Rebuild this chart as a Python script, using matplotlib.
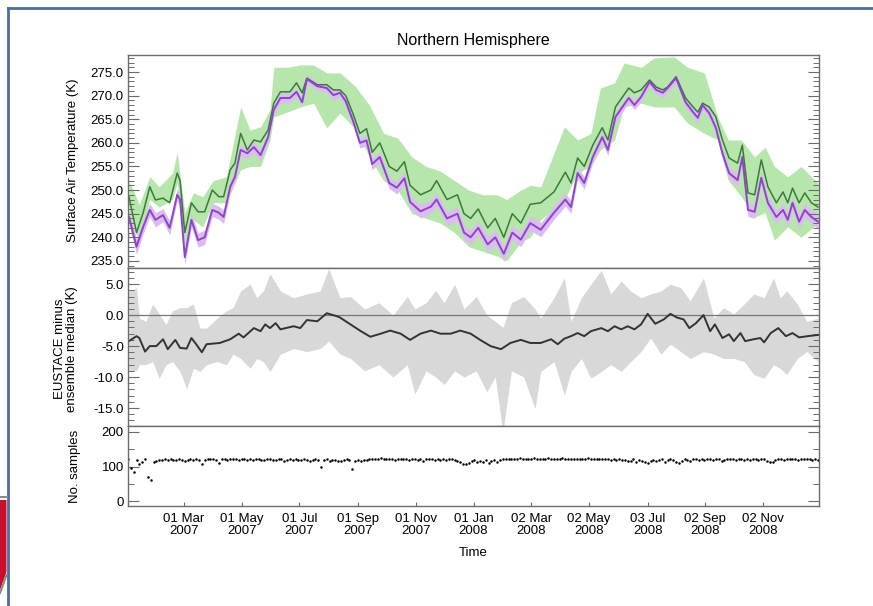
import numpy as np
import pandas as pd
import matplotlib
matplotlib.use("Agg")
import matplotlib.pyplot as plt
from matplotlib.ticker import MultipleLocator, FormatStrFormatter
from matplotlib.patches import Polygon
from matplotlib.lines import Line2D

plt.rcParams['font.family'] = ['Liberation Sans', 'DejaVu Sans']

# ---- daily series, days counted from 1 Jan 2007 ----
temp_days = [1, 9, 16, 23, 29, 37, 44, 52, 55, 60, 67, 74, 81, 89, 96, 101, 108, 113,
             119, 126, 133, 140, 148, 154, 161, 171, 178, 184, 189, 200, 210, 217, 224,
             230, 238, 245, 252, 258, 266, 276, 284, 292, 298, 309, 320, 326, 337, 348,
             355, 362, 370, 380, 388, 397, 406, 415, 425,
             436, 450, 462, 468, 475, 482, 491, 501, 507, 515, 529, 535, 542, 551, 558,
             565, 570, 579, 589, 597, 602, 607, 614, 621, 628, 635, 644, 649, 655, 662,
             669, 676, 685, 692, 697, 702, 709, 715, 722, 729]
ens_median = [248.6, 241.0, 245.2, 250.7, 247.9, 248.3, 247.3, 253.6, 252.0, 241.0,
              247.3, 245.4, 245.4, 250.0, 248.6, 248.6, 254.3, 255.7, 262.0, 258.5,
              260.6, 260.2, 262.7, 268.4, 270.8, 270.8, 272.7, 270.6, 273.7, 272.3,
              272.3, 271.2, 271.2,
              270.0, 266.0, 262.0, 263.0, 258.0, 260.0, 255.0, 254.0, 256.0, 251.0,
              249.0, 250.0, 252.0, 248.0, 249.0, 245.0, 244.0, 246.0, 242.0, 244.0,
              240.0, 245.0, 243.0, 247.0,
              247.3, 249.6, 253.8, 251.5, 256.8, 255.0, 259.5, 263.2, 260.6, 267.6,
              271.6, 270.6, 271.2, 273.3, 271.8, 271.2, 271.8, 274.0, 269.5, 267.6,
              266.5, 268.4, 267.6, 265.5, 260.6, 256.8, 255.7, 259.5, 249.4, 249.0,
              256.4, 250.7, 247.3, 249.6, 247.3, 250.4, 247.3, 249.4, 247.3, 246.4]
eustace = [244.3, 238.0, 242.2, 245.8, 243.7, 244.7, 242.0, 249.0, 248.0, 235.8,
           243.7, 239.4, 240.0, 245.8, 245.2, 244.3, 250.7, 252.8, 258.5, 257.8,
           259.1, 257.4, 261.2, 267.0, 269.5, 269.5, 270.8, 268.6, 273.5, 272.0,
           271.6, 270.1, 270.6,
           268.8, 264.5, 260.0, 260.5, 255.5, 257.0, 251.5, 250.5, 252.5, 247.5,
           245.5, 246.5, 248.0, 244.0, 245.0, 241.0, 240.0, 242.0, 238.5, 240.0,
           236.5, 241.0, 239.5, 243.0,
           241.6, 245.2, 248.0, 246.4, 253.6, 251.5, 257.0, 261.2, 258.5, 265.5,
           269.5, 268.0, 269.7, 272.9, 271.2, 270.6, 271.6, 273.7, 268.6, 266.5,
           265.3, 268.0, 266.3, 263.2, 257.8, 253.6, 252.1, 257.0, 245.8, 245.4,
           252.6, 247.3, 244.3, 245.8, 243.7, 247.3, 243.3, 245.8, 244.3, 243.3]
eustace_unc = [1.5, 1.6, 1.5, 1.4, 1.5, 1.4, 1.5, 1.3, 1.4, 1.6,
               1.5, 1.5, 1.5, 1.4, 1.4, 1.4, 1.3, 1.3, 1.2, 1.2,
               1.2, 1.2, 1.1, 1.0, 1.0, 1.0, 0.9, 1.0, 0.9, 0.9,
               0.9, 1.0, 1.0,
               1.0, 1.0, 1.1, 1.1, 1.2, 1.2, 1.2, 1.3, 1.3, 1.3,
               1.4, 1.4, 1.4, 1.4, 1.5, 1.5, 1.5, 1.5, 1.6, 1.5,
               1.6, 1.5, 1.5, 1.5,
               1.5, 1.4, 1.4, 1.4, 1.3, 1.3, 1.2, 1.2, 1.2, 1.1,
               1.0, 1.0, 1.0, 0.9, 0.9, 1.0, 0.9, 0.9, 1.0, 1.0,
               1.0, 1.0, 1.0, 1.1, 1.2, 1.2, 1.3, 1.2, 1.4, 1.4,
               1.3, 1.4, 1.5, 1.4, 1.5, 1.4, 1.5, 1.4, 1.5, 1.5]

spread_days = [1, 12, 23, 33, 47, 52, 60, 69, 79, 90, 104, 119, 129, 140, 150, 154,
               168, 182, 196, 210, 224,
               240, 255, 270, 285, 300, 315, 330, 345, 360, 375, 390, 400, 415, 425,
               436, 461, 475, 489, 499, 514, 524, 542, 556, 577, 591, 609, 623, 634,
               648, 662, 673, 683, 697, 711, 729]
ens_lo = [243.7, 239.4, 248.0, 246.4, 248.0, 251.5, 238.0, 243.7, 242.2, 247.3,
          247.3, 254.3, 255.0, 255.0, 260.6, 265.5, 266.5, 267.6, 268.4, 263.2, 266.3,
          263.0, 257.0, 252.0, 250.0, 245.0, 244.0, 243.0, 241.0, 238.0, 237.0,
          236.0, 235.0, 239.0, 240.0,
          243.7, 248.0, 253.6, 255.0, 258.5, 260.6, 267.6, 268.4, 267.6, 267.6,
          264.2, 262.0, 260.6, 252.1, 248.6, 244.3, 245.2, 239.4, 242.2, 240.0, 243.0]
ens_hi = [252.0, 247.0, 252.8, 250.7, 253.6, 258.0, 245.2, 249.4, 248.6, 252.0,
          252.8, 267.6, 262.7, 263.4, 267.0, 276.0, 276.0, 276.5, 276.5, 274.8, 274.8,
          272.0, 268.0, 262.0, 261.0, 257.0, 255.0, 254.0, 252.0, 250.0, 249.0,
          249.0, 248.0, 250.0, 251.0,
          250.7, 263.4, 260.6, 262.0, 271.6, 272.7, 276.9, 276.0, 278.0, 278.2,
          276.0, 274.8, 265.5, 260.6, 260.6, 257.0, 259.1, 255.0, 252.8, 255.0, 251.5]

diff_days = [1, 9, 12, 18, 23, 30, 37, 42, 50, 55, 62, 67, 72, 78, 83, 97, 108, 117,
             122, 133, 140, 145, 150, 156, 161, 175, 182, 189, 200, 210, 221, 224,
             235, 245, 256, 267, 277, 288, 298, 309, 320, 330, 341, 351, 362, 372,
             383, 394, 404, 415, 425,
             436, 447, 454, 461, 468, 475, 482, 489, 500, 507, 514, 521, 528, 535,
             542, 549, 557, 566, 573, 580, 587, 593, 600, 608, 615, 620, 628, 635,
             640, 647, 652, 661, 668, 672, 679, 687, 695, 702, 709, 718, 729]
diff_median = [-4.2, -3.4, -3.7, -5.9, -5.0, -5.0, -3.9, -5.5, -4.0, -5.3, -5.4, -3.7,
               -4.7, -6.0, -4.7, -4.5, -3.9, -3.0, -3.6, -2.1, -2.6, -1.5, -2.1, -1.3,
               -2.3, -1.8, -2.1, -0.8, -1.0, 0.3, -0.2, -0.4,
               -1.5, -2.5, -3.5, -3.0, -2.5, -3.0, -4.0, -3.0, -2.5, -3.0, -3.0,
               -2.5, -3.0, -4.0, -5.0, -5.5, -4.5, -4.0, -4.5,
               -4.5, -3.9, -4.7, -3.8, -3.4, -2.9, -3.4, -2.6, -2.1, -2.6, -1.8,
               -2.3, -1.8, -2.3, -1.5, 0.2, -1.4, -0.7, 0.2, -0.4, -0.7, -2.1,
               -1.3, 0.0, -2.6, -1.5, -3.7, -3.1, -4.2, -2.9, -4.2, -3.9, -3.7,
               -4.4, -2.9, -2.1, -3.4, -2.9, -3.6, -3.4, -3.2]

range_days = [1, 9, 12, 19, 26, 33, 40, 47, 55, 62, 69, 76, 83, 94, 104, 111, 119,
              129, 136, 143, 150, 161, 175, 189, 203, 212, 224,
              235, 250, 265, 280, 295, 303, 315, 325, 334, 345, 355, 368, 379, 388,
              396, 405, 418, 430,
              436, 450, 461, 468, 479, 489, 500, 510, 521, 531, 542, 552, 563, 573,
              584, 594, 608, 619, 629, 640, 651, 661, 672, 682, 689, 696, 707, 717, 729]
diff_lo = [-9.0, -9.0, -8.0, -8.0, -7.5, -10.2, -8.0, -7.5, -9.1, -11.9, -8.6, -9.1,
           -8.0, -7.5, -8.0, -6.3, -7.0, -8.6, -7.0, -7.5, -9.1, -6.3, -5.4, -5.9,
           -5.4, -4.2, -6.3,
           -7.0, -9.0, -8.0, -10.0, -8.0, -12.7, -9.0, -10.0, -11.2, -9.0, -10.0,
           -9.0, -12.4, -10.0, -19.0, -9.0, -10.0, -15.1,
           -9.1, -7.5, -12.9, -9.1, -7.0, -10.2, -9.1, -8.0, -9.1, -7.5, -5.9, -3.7,
           -6.3, -4.7, -5.9, -7.0, -5.9, -6.3, -7.0, -7.0, -7.5, -9.6, -10.2, -8.0,
           -8.6, -9.6, -7.0, -5.9, -7.5]
diff_hi = [3.9, 4.4, -0.5, -1.0, 1.8, 0.2, -1.5, 0.7, 1.2, 1.2, 1.8, -2.1, -2.1, -0.5,
           0.7, 1.2, 3.9, 5.0, 2.8, 3.9, 6.7, 3.9, 2.8, 3.4, 3.9, 7.5, 2.8,
           3.0, 1.0, 2.0, 0.0, 3.0, 1.0, 2.0, 4.0, 2.0, 5.0, 1.0, 3.0, 0.0, -1.0,
           -2.0, 2.0, 3.0, 1.0,
           -0.5, 2.8, 6.0, -1.0, 2.8, 5.0, 7.2, 3.4, 5.5, 3.9, 2.8, 3.4, 3.9, 5.0,
           4.4, 2.3, 6.0, -0.5, 1.2, 0.2, 1.8, 3.4, 2.8, 6.0, 2.8, 3.9, 1.8, -1.0, -0.5]

# number of contributing samples, every third day
sample_days = np.arange(0, 730, 3)
n_samples = [
    122, 96, 84, 118, 106, 113, 121, 70, 62, 112, 117, 120, 118, 121, 119, 122, 120, 118, 121, 119,
    117, 120, 122, 119, 121, 118, 106, 120, 122, 121, 123, 120, 110, 121, 122, 120, 123, 121, 122, 120,
    121, 123, 120, 122, 119, 121, 123, 120, 118, 121, 122, 120, 119, 121, 122, 117, 120, 121, 119, 122,
    120, 118, 121, 119, 117, 120, 121, 118, 98, 119, 121, 116, 118, 120, 117, 115, 119, 121, 118, 92,
    116, 119, 117, 120, 118, 122, 123, 121, 122, 124, 123, 121, 122, 123, 120, 122, 121, 123, 122, 118,
    121, 123, 120, 122, 117, 121, 123, 122, 119, 121, 120, 122, 118, 121, 123, 120, 116, 112, 108, 106,
    109, 115, 119, 114, 117, 112, 118, 110, 116, 119, 113, 118, 121, 122, 123, 121, 122, 123, 124, 122,
    123, 121, 122, 124, 123, 122, 121, 123, 124, 122, 121, 123, 122, 124, 123, 121, 122, 123, 122, 121,
    123, 122, 124, 121, 122, 123, 122, 121, 123, 122, 120, 121, 119, 122, 118, 120, 115, 117, 121, 112,
    118, 116, 113, 109, 117, 120, 115, 118, 121, 114, 118, 122, 120, 112, 109, 117, 121, 119, 116, 121,
    122, 120, 121, 118, 122, 121, 120, 122, 121, 116, 120, 122, 121, 123, 120, 122, 121, 119, 122, 120,
    121, 123, 120, 122, 121, 116, 112, 114, 118, 121, 122, 120, 121, 123, 121, 122, 120, 121, 123, 122,
    121, 118, 122, 120]

tick_dates = ["2007-03-01", "2007-05-01", "2007-07-01", "2007-09-01", "2007-11-01",
              "2008-01-01", "2008-03-02", "2008-05-02", "2008-07-03", "2008-09-02",
              "2008-11-02"]

start = pd.Timestamp("2007-01-01")


def to_dates(days):
    return start + pd.to_timedelta(np.asarray(days), unit="D")


GREEN_BAND = "#b6e6ab"
GREEN_LINE = "#3b7a3b"
PURPLE_BAND = "#dcbcf0"
PURPLE_LINE = "#8c45c8"
GREY_BAND = "#d8d8d8"
AXIS_COL = "#6b6b6b"

fig = plt.figure(figsize=(8.73, 6.06), dpi=100)
L, W = 128 / 873, 691 / 873
ax1 = fig.add_axes([L, 1 - 268 / 606, W, 213 / 606])
ax2 = fig.add_axes([L, 1 - 426 / 606, W, 158 / 606], sharex=ax1)
ax3 = fig.add_axes([L, 1 - 506 / 606, W, 80 / 606], sharex=ax1)

# surface air temperature
ax1.fill_between(to_dates(spread_days), ens_lo, ens_hi, color=GREEN_BAND, lw=0)
eu = np.array(eustace)
unc = np.array(eustace_unc)
ax1.fill_between(to_dates(temp_days), eu - unc, eu + unc, color=PURPLE_BAND, lw=0)
ax1.plot(to_dates(temp_days), ens_median, color=GREEN_LINE, lw=1.1)
ax1.plot(to_dates(temp_days), eustace, color=PURPLE_LINE, lw=1.4)
ax1.set_ylim(233.5, 278.6)
ax1.yaxis.set_major_locator(MultipleLocator(5))
ax1.yaxis.set_minor_locator(MultipleLocator(1))
ax1.yaxis.set_major_formatter(FormatStrFormatter("%.1f"))

# difference panel
ax2.fill_between(to_dates(range_days), diff_lo, diff_hi, color=GREY_BAND, lw=0)
ax2.axhline(0, color="#777777", lw=0.9)
ax2.plot(to_dates(diff_days), diff_median, color="#333333", lw=1.4)
ax2.set_ylim(-17.9, 7.6)
ax2.yaxis.set_major_locator(MultipleLocator(5))
ax2.yaxis.set_minor_locator(MultipleLocator(1))
ax2.yaxis.set_major_formatter(FormatStrFormatter("%.1f"))

# sample counts
ax3.plot(to_dates(sample_days), n_samples, ls="none", marker="o", ms=1.8,
         color="black", mew=0)
ax3.set_ylim(-14, 217)
ax3.yaxis.set_major_locator(MultipleLocator(100))
ax3.yaxis.set_minor_locator(MultipleLocator(50))
ax3.yaxis.set_major_formatter(FormatStrFormatter("%d"))

ax3.set_xlim(start, start + pd.Timedelta(days=730))
ticks = pd.to_datetime(tick_dates)
ax3.set_xticks(ticks)
ax3.set_xticklabels([t.strftime("%d %b\n%Y") for t in ticks], linespacing=1.0)

for ax in (ax1, ax2, ax3):
    for sp in ax.spines.values():
        sp.set_color(AXIS_COL)
        sp.set_linewidth(1.0)
    ax.tick_params(axis="y", which="major", direction="in", length=8, width=0.8,
                   color=AXIS_COL, left=True, right=True, labelsize=9.5, pad=3)
    ax.tick_params(axis="y", which="minor", direction="in", length=4, width=0.7,
                   color=AXIS_COL, left=True, right=True)
for ax in (ax1, ax2):
    ax.tick_params(axis="x", which="both", bottom=False, labelbottom=False)
ax3.tick_params(axis="x", which="major", direction="in", length=3, width=0.8,
                color=AXIS_COL, labelsize=9.5, pad=5)

fig.text(473 / 873, 1 - 40 / 606, "Northern Hemisphere", ha="center", va="center",
         fontsize=11.5)
fig.text(473 / 873, 1 - 553 / 606, "Time", ha="center", va="center", fontsize=9.5)
fig.text(73 / 873, 1 - 160 / 606, "Surface Air Temperature (K)", rotation=90,
         ha="center", va="center", fontsize=9.5)
fig.text(66 / 873, 1 - 349 / 606, "EUSTACE minus\nensemble median (K)", rotation=90,
         ha="center", va="center", fontsize=9.5, linespacing=1.05)
fig.text(75 / 873, 1 - 466 / 606, "No. samples", rotation=90, ha="center",
         va="center", fontsize=9.5)

# slide frame and the edge of the logo
fw, fh = 873, 606
fig.add_artist(Line2D([8 / fw, 1], [1 - 8 / fh, 1 - 8 / fh], color="#4d6e9e", lw=2.0))
fig.add_artist(Line2D([8 / fw, 8 / fw], [0, 1 - 8 / fh], color="#4d6e9e", lw=2.0))
fig.add_artist(Polygon([(0, 1 - 500 / fh), (6.5 / fw, 1 - 500 / fh),
                        (6.5 / fw, 1 - 572 / fh), (0, 1 - 590 / fh)],
                       closed=True, transform=fig.transFigure, color="#c8102e", lw=0))
fig.add_artist(Line2D([0, 6.5 / fw], [1 - 497 / fh, 1 - 497 / fh], color="#8a8a8a", lw=1.5))
fig.add_artist(Line2D([0, 6.5 / fw], [1 - 593 / fh, 1 - 575 / fh], color="#8a8a8a", lw=1.5))

fig.savefig("out.png", dpi=100)
